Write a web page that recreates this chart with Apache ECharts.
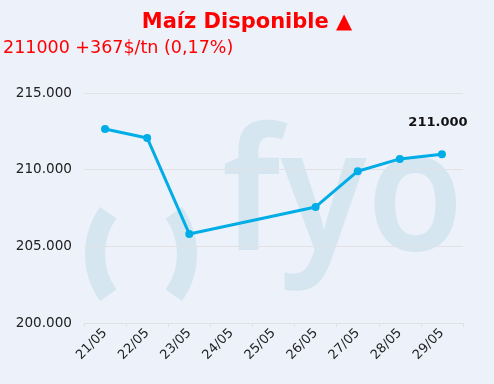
<!DOCTYPE html>
<html><head><meta charset="utf-8">
<script src="https://cdn.jsdelivr.net/npm/echarts@6/dist/echarts.min.js"></script>
<style>html,body{margin:0;padding:0;background:#edf1fa;}#c{width:494px;height:384px;}</style>
</head><body><div id="c"></div>
<script>
var titleText = 'Maíz Disponible ▲';
var subtitleText = '211000 +367$/tn (0,17%)';
var categories = ['21/05','22/05','23/05','24/05','25/05','26/05','27/05','28/05','29/05'];
var prices = [212650, 212070, 205810, null, null, 207570, 209900, 210700, 211000];
var yTicks = [200000, 205000, 210000, 215000];
var lastLabel = '211.000';

function fmt(v){ return String(v).replace(/\B(?=(\d{3})+(?!\d))/g, '.'); }

var seriesData = prices.map(function(v, i){
  if (i === prices.length - 1) {
    return {value: v, label: {show: true, formatter: lastLabel, position: 'top', distance: 4,
      fontFamily: 'DejaVu Sans', fontWeight: 'bold', fontSize: 13, color: '#111'}};
  }
  return v;
});

var chart = echarts.init(document.getElementById('c'), null, {renderer: 'canvas'});
var wm = '#d5e6f0';
chart.setOption({
  backgroundColor: '#edf1fa',
  animation: false,
  title: [
    {text: titleText, left: 'center', top: 7, textStyle: {color: '#ff0000', fontFamily: 'DejaVu Sans', fontWeight: 'bold', fontSize: 21}},
    {text: subtitleText, left: -2, top: 34, textStyle: {color: '#ff0000', fontFamily: 'DejaVu Sans', fontWeight: 'normal', fontSize: 17.5}}
  ],
  graphic: [
    {type: 'arc', z: -10, shape: {cx: 166, cy: 254, r: 71, startAngle: Math.PI - 0.62, endAngle: Math.PI + 0.62}, style: {fill: null, stroke: wm, lineWidth: 20}},
    {type: 'arc', z: -10, shape: {cx: 116, cy: 254, r: 71, startAngle: -0.62, endAngle: 0.62}, style: {fill: null, stroke: wm, lineWidth: 20}},
    {type: 'text', z: -10, x: 222, y: 287, scaleX: 0.926, style: {text: 'fyo', fill: wm, fontFamily: 'Noto Sans', fontWeight: 600, fontSize: 170, align: 'left', verticalAlign: 'bottom'}}
  ],
  grid: {left: 84, right: 31, top: 93, bottom: 61},
  xAxis: {
    type: 'category', data: categories, boundaryGap: true,
    axisLine: {lineStyle: {color: '#e2e2e6'}},
    axisTick: {show: true, lineStyle: {color: '#e2e2e6'}, length: 4},
    axisLabel: {rotate: 45, color: '#222', fontFamily: 'DejaVu Sans', fontSize: 13, margin: 8, interval: 0}
  },
  yAxis: {
    type: 'value', min: yTicks[0], max: yTicks[yTicks.length - 1], interval: 5000,
    axisLine: {show: false}, axisTick: {show: false},
    splitLine: {lineStyle: {color: '#e2e2e6'}},
    axisLabel: {color: '#222', fontFamily: 'DejaVu Sans', fontSize: 13.6, margin: 12, formatter: function(v){ return fmt(v); }}
  },
  series: [{
    type: 'line', data: seriesData, connectNulls: true,
    symbol: 'circle', symbolSize: 8,
    itemStyle: {color: '#00ade6'},
    lineStyle: {color: '#00ade6', width: 3},
    labelLayout: function(p){ if (p.dataIndex === prices.length - 1) return {dx: -4, dy: -17}; return {}; }
  }]
});
</script></body></html>
